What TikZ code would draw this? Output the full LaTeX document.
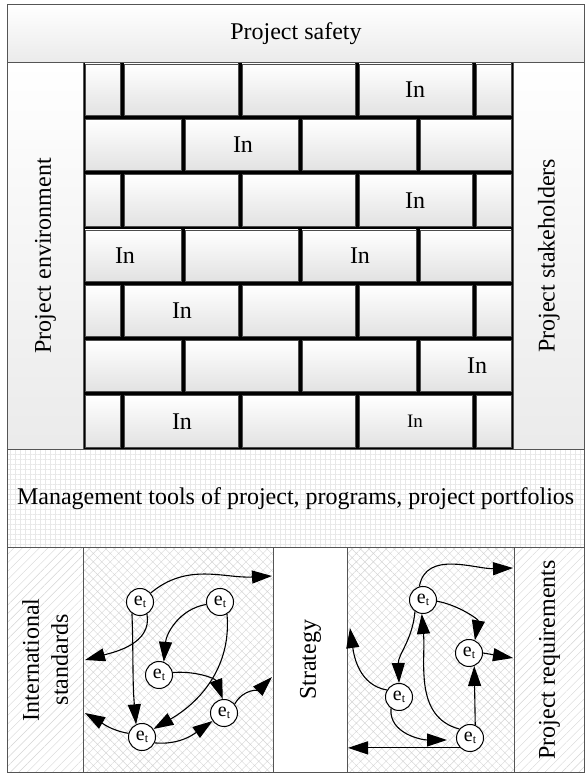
\documentclass[tikz,border=0pt]{standalone}
\usepackage{fontspec}
\setmainfont{Liberation Serif}
\usetikzlibrary{arrows.meta,patterns.meta,positioning}
\definecolor{wlline}{RGB}{85,85,85}
\definecolor{wlshade}{RGB}{226,226,226}
\definecolor{wlhatch}{RGB}{212,212,212}
\definecolor{wlgrid}{RGB}{232,232,232}
\tikzstyle{arrow} = [line width=1.1pt,-{Triangle[length=20pt,width=13pt]}]
\tikzstyle{panel} = [rectangle, draw=wlline, line width=0.9pt, anchor=north west, inner sep=0pt]
\tikzstyle{shaded} = [top color=white, bottom color=wlshade!70]
\tikzstyle{hatched} = [pattern={Lines[angle=45,distance=6pt,line width=0.4pt]}, pattern color=wlhatch]
\tikzstyle{crossed} = [pattern={Hatch[angle=45,distance=6pt,line width=0.4pt]}, pattern color=wlhatch]
\tikzstyle{brick} = [draw=gray!60!black, line width=0.5pt, top color=white, bottom color=wlshade]
\tikzstyle{event} = [circle, draw=black, fill=white, line width=1pt, minimum size=27pt, inner sep=0pt, font=\fontsize{20}{20}\selectfont]
\newcommand{\evt}{e{\fontsize{12}{12}\selectfont\raisebox{-1.5pt}{t}}}

\begin{document}
\begin{tikzpicture}[x=1pt, y=1pt, font=\fontsize{24}{29}\selectfont]
\useasboundingbox (0,0) rectangle (585,774);
% Frame of panels
\node (safety) [panel, shaded, minimum width=577pt, minimum height=58pt] at (7,770) {};
\node (env) [panel, shaded, minimum width=76pt, minimum height=387pt] at (7,712) {};
\node (wall) [panel, fill=black, minimum width=430pt, minimum height=387pt] at (83,712) {};
\node (stake) [panel, shaded, minimum width=71pt, minimum height=387pt] at (513,712) {};
\node (tools) [panel, pattern={Hatch[angle=0,distance=5pt,line width=0.35pt]}, pattern color=wlgrid, minimum width=577pt, minimum height=98pt] at (7,325) {};
\node (stand) [panel, hatched, minimum width=76pt, minimum height=225pt] at (7,227) {};
\node (net1) [panel, crossed, minimum width=190pt, minimum height=225pt] at (83,227) {};
\node (strat) [panel, minimum width=74pt, minimum height=225pt] at (273,227) {};
\node (net2) [panel, crossed, minimum width=167pt, minimum height=225pt] at (347,227) {};
\node (req) [panel, hatched, minimum width=70pt, minimum height=225pt] at (514,227) {};

% Brick wall
\foreach \r in {0,2,4,6}
  \foreach \a/\b in {83/122,122/240,240/357,357/474,474/513}
    \draw[brick] ({\a+2},{712-\r*55.29-2}) rectangle ({\b-2},{712-(\r+1)*55.29+2});
\foreach \r in {1,3,5}
  \foreach \a/\b in {83/183,183/300,300/418,418/513}
    \draw[brick] ({\a+2},{712-\r*55.29-2}) rectangle ({\b-2},{712-(\r+1)*55.29+2});
\foreach \x/\y [count=\i] in {415/684.4,243/629.1,415/573.8,125/518.5,360/518.5,182/463.2,477/407.9,182/352.6}
  \node (in\i) at (\x,\y) {In};
\node (in9) at (415,352.6) [font=\fontsize{19}{19}\selectfont] {In};

% Labels
\node (tsafety) at (safety.center) {Project safety};
\node (tenv) at (env.center) [rotate=90] {Project environment};
\node (tstake) at (stake.center) [rotate=90] {Project stakeholders};
\node (ttools) at (tools.center) {Management tools of project, programs, project portfolios};
\node (tstand) at (stand.center) [rotate=90, align=center] {International\\standards};
\node (tstrat) at (strat.center) [rotate=90] {Strategy};
\node (treq) at (req.center) [rotate=90] {Project requirements};

% Left network
\node (e1) [event] at (140,172) {\evt};
\node (e2) [event] at (220,172) {\evt};
\node (e3) [event] at (159,99) {\evt};
\node (e4) [event] at (224,61) {\evt};
\node (e5) [event] at (142,37) {\evt};
\coordinate (p1) at (272,198);
\coordinate (p2) at (85,114);
\coordinate (p3) at (272,97);
\coordinate (p4) at (85,61);

\draw[arrow] (e1.40) to[out=40,in=183] (p1);
\draw[arrow] (e1.-60) to[out=-80,in=15] (p2);
\draw[arrow] (e1.235) to[out=-88,in=95] (e5.115);
\draw[arrow] (e2.190) to[out=190,in=85] (e3.70);
\draw[arrow] (e2.-60) to[out=-85,in=30] (e5.35);
\draw[arrow] (e3.10) to[out=5,in=110] (e4.95);
\draw[arrow] (e4.40) to[out=60,in=225] (p3);
\draw[arrow] (e5.165) to[out=170,in=-30] (p4);
\draw[arrow] (e5.-25) to[out=-5,in=215] (e4.215);

% Right network
\node (f1) [event] at (423,174) {\evt};
\node (f2) [event] at (469,121) {\evt};
\node (f3) [event] at (399,77) {\evt};
\node (f4) [event] at (470,36) {\evt};
\coordinate (q1) at (513,206);
\coordinate (q2) at (513,116);
\coordinate (q3) at (350,146);
\coordinate (q4) at (447,34);
\coordinate (q5) at (348,24);

\draw[arrow] (f1.105) to[out=80,in=182] (q1);
\draw[arrow] (f1.-5) to[out=-10,in=80] (f2.65);
\draw[arrow] (f1.235) to[out=-95,in=92] (f3.north);
\draw[arrow] (f2.east) -- (q2);
\draw[arrow] (f4.140) to[out=165,in=-85] (f1.265);
\draw[arrow] (f4.68) -- (f2.-68);
\draw[arrow] (f3.150) to[out=170,in=-82] (q3);
\draw[arrow] (f3.235) to[out=-95,in=180] (q4);
\draw[arrow] (f4.225) -- (f4.225 -| q5);
\end{tikzpicture}
\end{document}
